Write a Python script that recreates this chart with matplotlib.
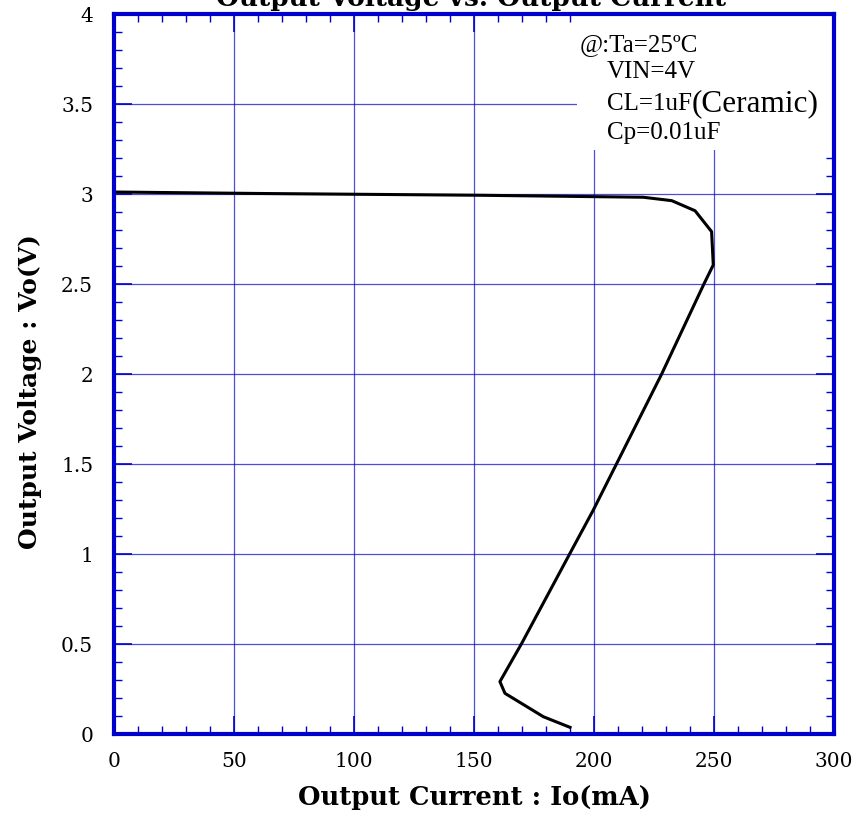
import matplotlib.pyplot as plt
from matplotlib.patches import Rectangle
from matplotlib.ticker import MultipleLocator

# Io (mA) vs Vo (V)
io_ma = [0, 60, 152.5, 220.5, 232.4, 242.1, 249.0, 249.7, 245.8, 228.2,
         206.0, 199.7, 190.0, 169.9, 160.8, 162.9, 178.9, 190.0]
vo_v = [3.011, 3.003, 2.993, 2.982, 2.963, 2.907, 2.791, 2.606, 2.5, 2.0,
        1.411, 1.244, 1.004, 0.504, 0.291, 0.226, 0.096, 0.037]

x_ticks = [0, 50, 100, 150, 200, 250, 300]
y_ticks = [0, 0.5, 1, 1.5, 2, 2.5, 3, 3.5, 4]
y_tick_labels = ['0', '0.5', '1', '1.5', '2', '2.5', '3', '3.5', '4']

blue = '#0000cc'
serif = 'DejaVu Serif'

fig = plt.figure(figsize=(8.56, 8.16), dpi=100)
ax = fig.add_axes([114 / 856, 1 - 734 / 816, 720 / 856, 720 / 816])

ax.set_xlim(0, 300)
ax.set_ylim(0, 4)
ax.set_xticks(x_ticks)
ax.set_yticks(y_ticks)
ax.set_yticklabels(y_tick_labels)
ax.xaxis.set_minor_locator(MultipleLocator(10))
ax.yaxis.set_minor_locator(MultipleLocator(0.1))

ax.grid(True, which='major', color=blue, lw=0.9, alpha=0.7, zorder=1)
ax.set_axisbelow(True)

# white patch behind the condition text hides the grid there
ax.add_patch(Rectangle((193, 3.245), 107, 0.755, facecolor='white',
                       edgecolor='none', zorder=1.5))

ax.plot(io_ma, vo_v, color='black', lw=2.2, zorder=3)

for s in ax.spines.values():
    s.set_color(blue)
    s.set_linewidth(3)
    s.set_zorder(4)

ax.tick_params(which='both', direction='in', top=True, right=True,
               color=blue, labelsize=14.5)
ax.tick_params(axis='x', pad=13)
ax.tick_params(axis='y', pad=15)
ax.tick_params(which='major', length=13, width=1.2)
ax.tick_params(which='minor', length=6, width=1)
for lab in ax.get_xticklabels() + ax.get_yticklabels():
    lab.set_family(serif)

ax.set_xlabel('Output Current : Io(mA)', family=serif, fontweight='bold',
              fontsize=18.5, va='center', ha='center')
ax.xaxis.set_label_coords(0.5, (734 - 798) / 720)
ax.set_ylabel('Output Voltage : Vo(V)', family=serif, fontweight='bold',
              fontsize=18, va='center', ha='center')
ax.yaxis.set_label_coords((30 - 114) / 720, 0.475)

fig.text(0.55, 1 - 6 / 816, 'Output Voltage vs. Output Current',
         family=serif, fontweight='bold', fontsize=19,
         ha='center', va='baseline')

txt = dict(family='Liberation Serif', fontsize=18, color='black',
           va='center', zorder=5)
ax.text(194.2, 3.83, '@:Ta=25ºC', **txt)
ax.text(205.4, 3.68, 'VIN=4V', **txt)
cl = ax.text(205.4, 3.50, 'CL=1uF', **txt)
ax.annotate('(Ceramic)', xy=(1, 0.5), xycoords=cl, family='Liberation Serif',
            fontsize=22.5, color='black', va='center', ha='left', zorder=5)
ax.text(205.4, 3.34, 'Cp=0.01uF', **txt)

fig.savefig('out.png', dpi=100)
